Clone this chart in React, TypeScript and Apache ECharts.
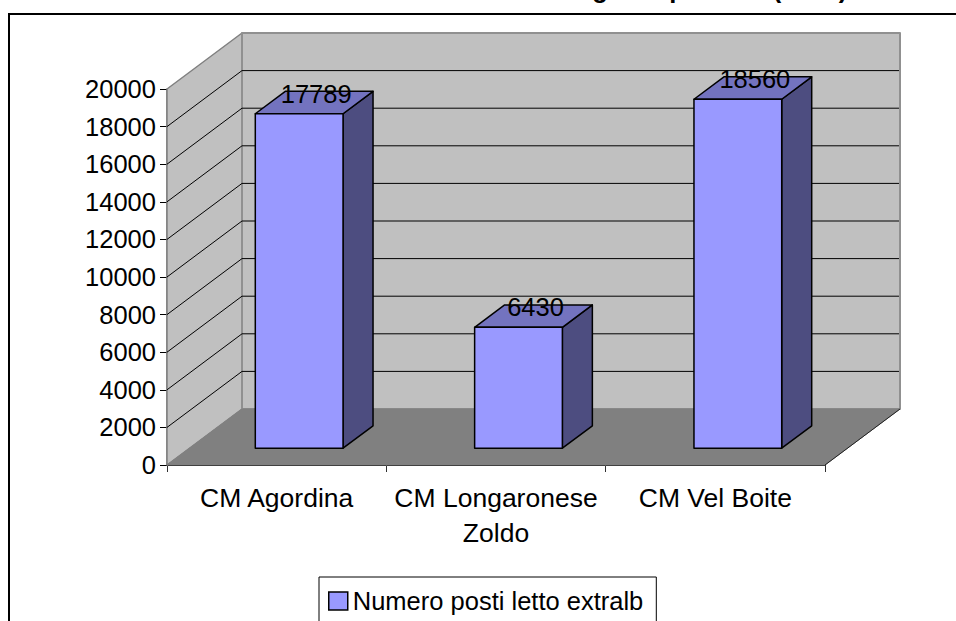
import React, { useEffect, useRef } from "react";
import * as echarts from "echarts";

const categories = ["CM Agordina", "CM Longaronese\nZoldo", "CM Vel Boite"];
const seriesName = "Numero posti letto extralb";
const postiLetto = [17789, 6430, 18560];
const yTicks = [0, 2000, 4000, 6000, 8000, 10000, 12000, 14000, 16000, 18000, 20000];
// Only the lower ends of these title glyphs are inside the picture; the rest of the title is cut off.
const titleGlyphs = ["g", "p", "(", ")"];
const titleGlyphX = [600, 677, 777, 843];
const FONT = "Liberation Sans, Arial, sans-serif";
const DX = 75, DY = -56;
const BAR_FRONT = 0.3, BAR_DEPTH = 0.4;

export default function App() {
  const ref = useRef<HTMLDivElement>(null);
  useEffect(() => {
    document.body.style.margin = "0";
    const chart = echarts.init(ref.current!, undefined, { renderer: "svg" });
    const poly = (points: number[][], fill: string, stroke: string, lw = 1) => ({
      type: "polygon",
      shape: { points },
      style: { fill, stroke, lineWidth: lw, lineJoin: "round" },
    });
    const line = (a: number[], b: number[], stroke: string, lw = 1) => ({
      type: "line",
      shape: { x1: a[0], y1: a[1], x2: b[0], y2: b[1] },
      style: { stroke, lineWidth: lw },
    });
    const off = (p: number[], t: number) => [p[0] + DX * t, p[1] + DY * t];

    const renderWalls = (_: any, api: any) => {
      const band = api.size([1, 0])[0];
      const c0 = api.coord([0, 0]);
      const l0 = [c0[0] - band / 2, c0[1]];
      const r0 = [l0[0] + band * categories.length, l0[1]];
      const lt = [l0[0], api.coord([0, 20000])[1]];
      const rb = off(r0, 1);
      const lb = off(l0, 1);
      const children: any[] = [
        poly([l0, lb, off(lt, 1), lt], "#C0C0C0", "#808080", 1.5),
        poly([lb, rb, [rb[0], off(lt, 1)[1]], off(lt, 1)], "#C0C0C0", "#909090", 2),
        poly([l0, r0, rb, lb], "#808080", "#808080", 1),
        line(r0, rb, "#202020", 1),
      ];
      yTicks.slice(1, -1).forEach((v) => {
        const p = [l0[0], api.coord([0, v])[1]];
        const q = off(p, 1);
        children.push(line(p, q, "#000000", 1));
        children.push(line(q, [rb[0] - 1, q[1]], "#000000", 1));
      });
      return { type: "group", children };
    };

    const renderBar = (_: any, api: any) => {
      const cat = api.value(0);
      const val = api.value(1);
      const band = api.size([1, 0])[0];
      const base = api.coord([cat, 0]);
      const top = api.coord([cat, val]);
      const hw = band * 0.2;
      const d1 = BAR_FRONT, d2 = BAR_FRONT + BAR_DEPTH;
      const fb = off([base[0] - hw, base[1]], d1);
      const fr = off([base[0] + hw, base[1]], d1);
      const ft = off([base[0] - hw, top[1]], d1);
      const frt = off([base[0] + hw, top[1]], d1);
      const bl = off([base[0] - hw, top[1]], d2);
      const br = off([base[0] + hw, top[1]], d2);
      const brb = off([base[0] + hw, base[1]], d2);
      const labelPos = off([base[0], top[1]], (d1 + d2) / 2);
      return {
        type: "group",
        children: [
          poly([frt, br, brb, fr], "#4D4D80", "#000000", 1.5),
          poly([ft, bl, br, frt], "#7373BF", "#000000", 1.5),
          poly([fb, fr, frt, ft], "#9999FF", "#000000", 1.5),
          {
            type: "text",
            x: labelPos[0] + 2,
            y: labelPos[1] - 9,
            style: {
              text: String(val),
              fill: "#000",
              font: `25.5px ${FONT}`,
              align: "center",
              verticalAlign: "middle",
            },
          },
        ],
      };
    };

    chart.setOption({
      animation: false,
      backgroundColor: "#fff",
      grid: { left: 167, right: 131, top: 89, bottom: 156 },
      xAxis: {
        type: "category",
        data: categories,
        axisLine: { lineStyle: { color: "#000", width: 1 } },
        axisTick: { show: true, alignWithLabel: false, length: 7, lineStyle: { color: "#303030" } },
        axisLabel: { color: "#000", fontFamily: FONT, fontSize: 26.5, lineHeight: 35, margin: 15, interval: 0 },
        splitLine: { show: false },
      },
      yAxis: {
        type: "value",
        min: 0,
        max: 20000,
        interval: 2000,
        axisLine: { show: true, lineStyle: { color: "#707070", width: 1.5 } },
        axisTick: { show: true, length: 7, lineStyle: { color: "#000" } },
        axisLabel: { color: "#000", fontFamily: FONT, fontSize: 25.5, margin: 11, formatter: (v: number) => String(v) },
        splitLine: { show: false },
      },
      legend: {
        data: [{
          name: seriesName,
          icon: "rect",
          itemStyle: { color: "#9999FF", borderColor: "#000", borderWidth: 1.5 },
        }],
        left: 319,
        top: 577,
        padding: [11, 13, 30, 9],
        itemWidth: 19,
        itemHeight: 18,
        itemGap: 4,
        borderColor: "#000",
        borderWidth: 1,
        textStyle: { color: "#000", fontFamily: FONT, fontSize: 25.5 },
      },
      graphic: [
        { type: "line", shape: { x1: 8, y1: 14, x2: 956, y2: 14 }, style: { stroke: "#000", lineWidth: 2 } },
        { type: "line", shape: { x1: 9, y1: 14, x2: 9, y2: 621 }, style: { stroke: "#000", lineWidth: 2 } },
        ...titleGlyphs.map((t, i) => ({
          type: "text",
          x: titleGlyphX[i],
          y: 2,
          style: { text: t, fill: "#000", font: `bold 25.5px ${FONT}`, align: "center", verticalAlign: "bottom" },
        })),
      ],
      series: [
        { type: "custom", name: "walls", silent: true, clip: false, coordinateSystem: "cartesian2d", z: 1, data: [[0, 0]], renderItem: renderWalls, encode: { x: 0, y: 1 } },
        { type: "custom", name: seriesName, clip: false, coordinateSystem: "cartesian2d", z: 2, itemStyle: { color: "#9999FF" }, data: postiLetto.map((v, i) => [i, v]), renderItem: renderBar, encode: { x: 0, y: 1 } },
      ],
    });
    return () => chart.dispose();
  }, []);
  return <div ref={ref} style={{ width: 956, height: 621 }} />;
}
